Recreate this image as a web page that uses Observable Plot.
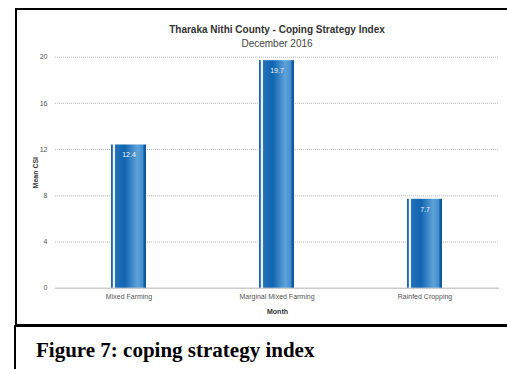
<!DOCTYPE html>
<html>
<head>
<meta charset="utf-8">
<script src="https://cdn.jsdelivr.net/npm/d3@7"></script>
<script src="https://cdn.jsdelivr.net/npm/@observablehq/plot@0.6"></script>
<style>
  html, body { margin: 0; padding: 0; background: #fff; }
  #wrap { position: relative; width: 507px; height: 369px; overflow: hidden; font-family: "Liberation Sans", Arial, sans-serif; }
  #chart { position: absolute; left: 0; top: 0; }
  .t1 { position: absolute; left: 55px; width: 444px; top: 24px; text-align: center; font-size: 10px; font-weight: bold; color: #333; }
  .t2 { position: absolute; left: 55px; width: 444px; top: 38px; text-align: center; font-size: 10px; color: #444; }
  .frameTop { position: absolute; left: 15px; top: 8px; width: 492px; height: 0; border-top: 2px solid #000; }
  .frameLeft { position: absolute; left: 15px; top: 8px; width: 0; height: 318px; border-left: 2px solid #000; }
  .frameMid { position: absolute; left: 15px; top: 324px; width: 492px; height: 0; border-top: 3px solid #000; }
  .frameLeft2 { position: absolute; left: 14px; top: 325px; width: 0; height: 44px; border-left: 2px solid #000; }
  .cap { position: absolute; left: 36px; top: 338px; font-family: "Liberation Serif", "Times New Roman", serif; font-weight: bold; font-size: 21px; color: #000; white-space: nowrap; }
</style>
</head>
<body>
<div id="wrap">
  <div id="chart"></div>
  <div class="frameTop"></div>
  <div class="frameLeft"></div>
  <div class="frameMid"></div>
  <div class="frameLeft2"></div>
  <div class="t1">Tharaka Nithi County - Coping Strategy Index</div>
  <div class="t2">December 2016</div>
  <div class="cap">Figure 7: coping strategy index</div>
</div>
<script>
const categories = ["Mixed Farming", "Marginal Mixed Farming", "Rainfed Cropping"];
const values = [12.4, 19.7, 7.7];
const yTicks = [0, 4, 8, 12, 16, 20];
const gridTicks = [4, 8, 12, 16, 20];

const data = categories.map((c, i) => ({category: c, value: values[i]}));

const plot = Plot.plot({
  width: 507,
  height: 325,
  marginLeft: 55,
  marginRight: 8,
  marginTop: 56.7,
  marginBottom: 37.3,
  style: {fontFamily: "'Liberation Sans', Arial, sans-serif", fontSize: "7px", background: "transparent", color: "#555"},
  x: {domain: categories, paddingInner: 0.763, paddingOuter: 0.3815, label: null},
  y: {domain: [0, 20], label: null},
  marks: [
    Plot.ruleY(gridTicks, {stroke: "#bbb", strokeWidth: 1, strokeDasharray: "1,1"}),
    Plot.ruleY([0], {stroke: "#ccc", strokeWidth: 1.5}),
    Plot.barY(data, {x: "category", y: "value", fill: "url(#barGrad)"}),
    Plot.text(data, {x: "category", y: "value", text: d => d.value.toFixed(1), dy: 10, fill: "#eef4fb", fontSize: 7}),
    Plot.axisY(yTicks, {tickSize: 0, tickPadding: 8, fill: "#555", fontSize: 7, label: "Mean CSI", labelAnchor: "center", labelArrow: "none", labelOffset: 22}),
    Plot.axisX({tickSize: 0, tickPadding: 6, fill: "#555", fontSize: 7, label: "Month", labelAnchor: "center", labelArrow: "none", labelOffset: 26})
  ]
});

const svg = d3.select(plot);
const defs = svg.insert("defs", ":first-child");
const g = defs.append("linearGradient").attr("id", "barGrad").attr("x1", "0").attr("x2", "1").attr("y1", "0").attr("y2", "0");
[
  [0, "#1d5f9f"], [0.04, "#2a6fb2"], [0.06, "#e6f0f9"], [0.10, "#e6f0f9"], [0.13, "#2370b8"],
  [0.40, "#1165b0"], [0.75, "#5ea3d9"], [0.90, "#4690d0"], [0.95, "#125ca6"], [1, "#0f5598"]
].forEach(([o, c]) => g.append("stop").attr("offset", o).attr("stop-color", c));

svg.selectAll("[aria-label='y-axis label'] text, [aria-label='x-axis label'] text")
  .style("font-weight", "bold").style("fill", "#333");

document.getElementById("chart").appendChild(plot);
</script>
</body>
</html>
